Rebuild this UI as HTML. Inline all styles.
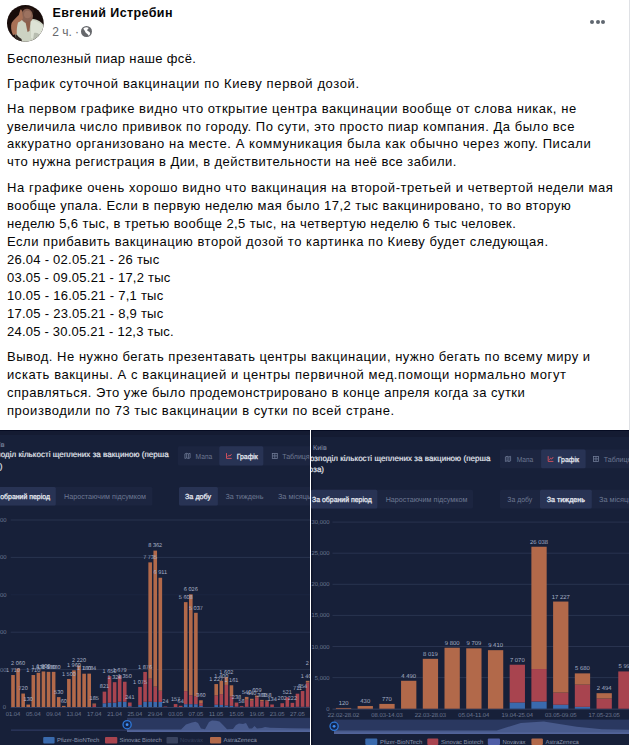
<!DOCTYPE html>
<html><head><meta charset="utf-8"><style>
html,body{margin:0;padding:0;background:#fff;}
body{width:630px;height:745px;overflow:hidden;position:relative;font-family:"Liberation Sans","DejaVu Sans",sans-serif;color:#050505;}
.l{position:absolute;left:7.0px;white-space:nowrap;font-size:13.0px;line-height:18px;}
.av{position:absolute;left:7.2px;top:5px;}
.nm{position:absolute;left:52.5px;top:5px;font-weight:bold;font-size:12.5px;letter-spacing:0.4px;line-height:16px;white-space:nowrap;}
.tm{position:absolute;left:52.2px;top:24.5px;font-size:12px;line-height:14px;color:#65676b;white-space:nowrap;}
.dots{position:absolute;top:19.5px;width:4px;height:4px;border-radius:50%;background:#606770;}
.edge{position:absolute;left:629px;top:0;width:1px;height:430px;background:#dfe1e5;}
.ch{position:absolute;}
.ch text{font-family:"Liberation Sans","DejaVu Sans",sans-serif;text-rendering:geometricPrecision;}
.t5{font-size:5.9px;}
.t55{font-size:5.6px;}
.t6{font-size:5.9px;}
.t7{font-size:7.1px;}
.t7b{font-size:6.9px;font-weight:bold;}
.bt{font-size:7.4px;fill:#6d7892;}
.ba{fill:#e6e9f1;stroke:#e6e9f1;stroke-width:0.28px;}
.tt{font-size:8px;fill:#e4e8f0;stroke:#e4e8f0;stroke-width:0.18px;}
</style></head><body>
<svg class="av" width="37" height="37" viewBox="0 0 37 37">
<defs><clipPath id="cc"><circle cx="18.35" cy="18.35" r="18.35"/></clipPath>
<filter id="bl" filterUnits="userSpaceOnUse" x="-5" y="-5" width="47" height="47"><feGaussianBlur stdDeviation="0.5"/></filter></defs>
<g clip-path="url(#cc)">
<rect width="37" height="37" fill="#180c0a"/>
<g filter="url(#bl)">
<ellipse cx="20" cy="6" rx="7" ry="4" fill="#2a1712"/>
<path d="M9 17 C14 14 20 14.5 26 14 C31 14.5 35 17 37 21 L37 37 L9 37 C8 30 8 24 9 17Z" fill="#ccd2c2"/>
<path d="M24 15 C29 15.5 33 17.5 36 21 L37 30 L31 35 L24 33 Z" fill="#dde2d5"/>
<ellipse cx="20" cy="11" rx="6" ry="7.2" fill="#8a6352"/>
<ellipse cx="20.5" cy="9.5" rx="3.5" ry="3.8" fill="#9c7260"/>
<path d="M18.5 17 L23.5 16.5 L22.5 26 L20.5 27 Z" fill="#8d5e4b"/>
<path d="M13.4 4.6 C14.6 4.4 15.4 6 15.2 8.5 L16 13 C15.6 15.5 13 16.5 11 17.5 C10 21 9.6 25 9.8 29 L6 30 C4 26 3.6 21 4.6 18 C6.5 14.5 9.5 12.5 11.8 10 Z" fill="#a87157"/>
<path d="M9 29 C11 31 12.5 33 14.5 34 L15 37 L7 37 Z" fill="#2d2520"/>
<path d="M27 28 C30 27 33 29 34 32 L30 36 L26 35Z" fill="#b8bdb0"/>
</g>
</g></svg>
<div class="nm">Евгений Истребин</div>
<div class="tm">2 ч. · </div><svg style="position:absolute;left:81px;top:26px" width="11" height="11" viewBox="0 0 11 11"><circle cx="5.5" cy="5.5" r="5.5" fill="#65676b"/><path d="M2.3 2.4 C3.8 1.1 6.4 1 7.7 1.9 C7.2 3 6 3.4 6.2 4.6 C7 5.3 8.5 5.8 9.1 7 C9.3 8.1 8.7 9.2 7.7 9.7 C7.1 8.7 6.3 7.7 5.4 7.2 C4.4 6.6 4.2 5.4 3.6 4.5 C3 3.8 2.5 3.2 2.3 2.4Z" fill="#fff"/></svg>
<div class="dots" style="left:589.7px"></div>
<div class="dots" style="left:595.5px"></div>
<div class="dots" style="left:601px"></div>
<div class="edge"></div>
<div class="l" style="top:49.80px;letter-spacing:0.344px">Бесполезный пиар наше фсё.</div>
<div class="l" style="top:74.70px;letter-spacing:0.631px">График суточной вакцинации по Киеву первой дозой.</div>
<div class="l" style="top:99.60px;letter-spacing:0.556px">На первом графике видно что открытие центра вакцинации вообще от слова никак, не</div>
<div class="l" style="top:117.50px;letter-spacing:0.544px">увеличила число прививок по городу. По сути, это просто пиар компания. Да было все</div>
<div class="l" style="top:135.40px;letter-spacing:0.570px">аккуратно организовано на месте. А коммуникация была как обычно через жопу. Писали</div>
<div class="l" style="top:153.30px;letter-spacing:0.428px">что нужна регистрация в Дии, в действительности на неё все забили.</div>
<div class="l" style="top:178.60px;letter-spacing:0.556px">На графике очень хорошо видно что вакцинация на второй-третьей и четвертой недели мая</div>
<div class="l" style="top:196.60px;letter-spacing:0.466px">вообще упала. Если в первую неделю мая было 17,2 тыс вакцинировано, то во вторую</div>
<div class="l" style="top:214.60px;letter-spacing:0.396px">неделю 5,6 тыс, в третью вообще 2,5 тыс, на четвертую неделю 6 тыс человек.</div>
<div class="l" style="top:232.60px;letter-spacing:0.525px">Если прибавить вакцинацию второй дозой то картинка по Киеву будет следующая.</div>
<div class="l" style="top:250.60px;letter-spacing:0.254px">26.04 - 02.05.21 - 26 тыс</div>
<div class="l" style="top:268.60px;letter-spacing:0.246px">03.05 - 09.05.21 - 17,2 тыс</div>
<div class="l" style="top:286.60px;letter-spacing:0.260px">10.05 - 16.05.21 - 7,1 тыс</div>
<div class="l" style="top:304.60px;letter-spacing:0.260px">17.05 - 23.05.21 - 8,9 тыс</div>
<div class="l" style="top:322.60px;letter-spacing:0.222px">24.05 - 30.05.21 - 12,3 тыс.</div>
<div class="l" style="top:348.40px;letter-spacing:0.513px">Вывод. Не нужно бегать презентавать центры вакцинации, нужно бегать по всему миру и</div>
<div class="l" style="top:366.30px;letter-spacing:0.588px">искать вакцины. А с вакцинацией и центры первичной мед.помощи нормально могут</div>
<div class="l" style="top:384.20px;letter-spacing:0.478px">справляться. Это уже было продемонстрировано в конце апреля когда за сутки</div>
<div class="l" style="top:402.10px;letter-spacing:0.535px">производили по 73 тыс вакцинации в сутки по всей стране.</div>
<svg class="ch" style="left:0;top:430px" width="310" height="315" viewBox="0 430 310 315">
<rect x="0" y="430" width="310" height="315" fill="#172039"/>
<rect x="0" y="430" width="310" height="1.2" fill="#050b22"/>
<rect x="0" y="431" width="310" height="4" fill="#141b32"/>
<text x="4.6" y="446.8" class="t7" fill="#8b94ae" text-anchor="end">Київ</text>
<text x="168.7" y="457.4" class="tt" text-anchor="end" textLength="185.5" lengthAdjust="spacing">Розподіл кількості щеплених за вакциною (перша</text>
<text x="2.3" y="468.7" class="tt" text-anchor="end">доза)</text>
<rect x="177.8" y="446.3" width="522.2" height="19.1" rx="1.5" fill="#1c2540"/>
<rect x="219.3" y="446.3" width="44.0" height="19.1" rx="1.5" fill="#283354"/>
<text x="195.6" y="458.6" class="bt" textLength="16.6" lengthAdjust="spacingAndGlyphs">Мапа</text>
<text x="236.7" y="458.6" class="bt ba" textLength="21.1" lengthAdjust="spacingAndGlyphs">Графік</text>
<text x="282.2" y="458.6" class="bt" textLength="27.5" lengthAdjust="spacingAndGlyphs">Таблиця</text>
<g fill="none" stroke="#6f7a95" stroke-width="0.8"><path d="M184.9 453.9 l1.7 -0.6 l1.8 0.6 l1.7 -0.6 v4.6 l-1.7 0.6 l-1.8 -0.6 l-1.7 0.6z M186.6 453.3 v4.6 M188.4 453.9 v4.6"/></g>
<g fill="none" stroke="#e0525f" stroke-width="0.9"><path d="M226.5 453.1 v5.3 h5.2 M227.7 456.8 l1.2 -1.6 l1.1 0.9 l1.5 -2"/></g>
<g fill="none" stroke="#6f7a95" stroke-width="0.8"><rect x="272.3" y="453.4" width="5" height="5"/><path d="M272.3 455.9 h5 M274.8 453.4 v5"/></g>
<rect x="-10" y="487.1" width="162.4" height="18.4" rx="1.5" fill="#1c2540"/>
<rect x="-10" y="487.1" width="65.8" height="18.4" rx="1.5" fill="#283354"/>
<rect x="179" y="487.1" width="151.0" height="18.4" rx="1.5" fill="#1c2540"/>
<rect x="179" y="487.1" width="38.9" height="18.4" rx="1.5" fill="#283354"/>
<text x="-9.7" y="499" class="bt ba" textLength="59.7" lengthAdjust="spacingAndGlyphs">За обраний період</text>
<text x="64" y="499" class="bt" textLength="82" lengthAdjust="spacingAndGlyphs">Наростаючим підсумком</text>
<text x="185" y="499" class="bt ba" textLength="26.2" lengthAdjust="spacingAndGlyphs">За добу</text>
<text x="225.5" y="499" class="bt" textLength="38" lengthAdjust="spacingAndGlyphs">За тиждень</text>
<text x="277.9" y="499" class="bt" textLength="33" lengthAdjust="spacingAndGlyphs">За місяць</text>
<rect x="10.7" y="669.10" width="300" height="1" fill="#29334f"/>
<text x="6.5" y="671.60" class="t6" fill="#6d7892" text-anchor="end">2 000</text>
<rect x="10.7" y="631.70" width="300" height="1" fill="#29334f"/>
<text x="6.5" y="634.20" class="t6" fill="#6d7892" text-anchor="end">4 000</text>
<rect x="10.7" y="594.30" width="300" height="1" fill="#1c2540"/>
<text x="6.5" y="596.80" class="t6" fill="#6d7892" text-anchor="end">6 000</text>
<rect x="10.7" y="556.90" width="300" height="1" fill="#29334f"/>
<text x="6.5" y="559.40" class="t6" fill="#6d7892" text-anchor="end">8 000</text>
<rect x="10.7" y="519.50" width="300" height="1" fill="#29334f"/>
<text x="6.5" y="522.00" class="t6" fill="#6d7892" text-anchor="end">10 000</text>
<text x="6" y="709.00" class="t6" fill="#6d7892" text-anchor="end">0</text>
<rect x="10.7" y="707.00" width="300" height="0.8" fill="#3a4566"/>
<rect x="11.20" y="675.02" width="3.6" height="31.98" fill="#b2694a"/>
<rect x="16.28" y="668.48" width="3.6" height="38.52" fill="#b2694a"/>
<rect x="21.36" y="693.54" width="3.6" height="13.46" fill="#b2694a"/>
<rect x="26.44" y="704.57" width="3.6" height="2.43" fill="#b2694a"/>
<rect x="31.52" y="675.02" width="3.6" height="31.98" fill="#b2694a"/>
<rect x="36.60" y="672.78" width="3.6" height="34.22" fill="#b2694a"/>
<rect x="41.68" y="671.47" width="3.6" height="35.53" fill="#b2694a"/>
<rect x="46.76" y="671.84" width="3.6" height="35.16" fill="#b2694a"/>
<rect x="51.84" y="671.84" width="3.6" height="35.16" fill="#b2694a"/>
<rect x="56.92" y="697.09" width="3.6" height="9.91" fill="#b2694a"/>
<rect x="62.00" y="705.88" width="3.6" height="1.12" fill="#b2694a"/>
<rect x="67.08" y="678.95" width="3.6" height="28.05" fill="#b2694a"/>
<rect x="72.16" y="670.35" width="3.6" height="36.65" fill="#b2694a"/>
<rect x="77.24" y="665.49" width="3.6" height="41.51" fill="#b2694a"/>
<rect x="82.32" y="673.71" width="3.6" height="33.29" fill="#b2694a"/>
<rect x="87.40" y="673.64" width="3.6" height="33.36" fill="#b2694a"/>
<rect x="92.48" y="704.76" width="3.6" height="2.24" fill="#a8444f"/>
<rect x="92.48" y="703.54" width="3.6" height="1.22" fill="#b2694a"/>
<rect x="102.64" y="703.26" width="3.6" height="3.74" fill="#3a6aad"/>
<rect x="102.64" y="691.65" width="3.6" height="11.61" fill="#a8444f"/>
<rect x="107.72" y="702.70" width="3.6" height="4.30" fill="#3a6aad"/>
<rect x="107.72" y="676.14" width="3.6" height="26.55" fill="#a8444f"/>
<rect x="112.80" y="702.70" width="3.6" height="4.30" fill="#3a6aad"/>
<rect x="112.80" y="682.17" width="3.6" height="20.53" fill="#a8444f"/>
<rect x="117.88" y="701.76" width="3.6" height="5.24" fill="#3a6aad"/>
<rect x="117.88" y="675.60" width="3.6" height="26.16" fill="#a8444f"/>
<rect x="122.96" y="701.76" width="3.6" height="5.24" fill="#3a6aad"/>
<rect x="122.96" y="681.75" width="3.6" height="20.01" fill="#a8444f"/>
<rect x="128.04" y="706.25" width="3.6" height="0.75" fill="#3a6aad"/>
<rect x="128.04" y="702.49" width="3.6" height="3.76" fill="#a8444f"/>
<rect x="138.20" y="704.94" width="3.6" height="2.06" fill="#3a6aad"/>
<rect x="138.20" y="686.90" width="3.6" height="18.05" fill="#a8444f"/>
<rect x="143.28" y="701.76" width="3.6" height="5.24" fill="#3a6aad"/>
<rect x="143.28" y="671.92" width="3.6" height="29.85" fill="#a8444f"/>
<rect x="148.36" y="701.71" width="3.6" height="5.29" fill="#3a6aad"/>
<rect x="148.36" y="678.71" width="3.6" height="23.00" fill="#a8444f"/>
<rect x="148.36" y="562.36" width="3.6" height="116.35" fill="#b2694a"/>
<rect x="153.44" y="701.95" width="3.6" height="5.05" fill="#3a6aad"/>
<rect x="153.44" y="686.62" width="3.6" height="15.33" fill="#a8444f"/>
<rect x="153.44" y="550.63" width="3.6" height="135.99" fill="#b2694a"/>
<rect x="158.52" y="701.95" width="3.6" height="5.05" fill="#3a6aad"/>
<rect x="158.52" y="690.73" width="3.6" height="11.22" fill="#a8444f"/>
<rect x="158.52" y="577.76" width="3.6" height="112.97" fill="#b2694a"/>
<rect x="163.60" y="706.55" width="3.6" height="0.45" fill="#a8444f"/>
<rect x="173.76" y="704.06" width="3.6" height="2.94" fill="#a8444f"/>
<rect x="178.84" y="705.80" width="3.6" height="1.20" fill="#a8444f"/>
<rect x="183.92" y="704.20" width="3.6" height="2.81" fill="#3a6aad"/>
<rect x="183.92" y="691.11" width="3.6" height="13.09" fill="#a8444f"/>
<rect x="183.92" y="602.13" width="3.6" height="88.97" fill="#b2694a"/>
<rect x="189.00" y="704.20" width="3.6" height="2.81" fill="#3a6aad"/>
<rect x="189.00" y="695.22" width="3.6" height="8.98" fill="#a8444f"/>
<rect x="189.00" y="594.31" width="3.6" height="100.91" fill="#b2694a"/>
<rect x="194.08" y="704.20" width="3.6" height="2.81" fill="#3a6aad"/>
<rect x="194.08" y="696.15" width="3.6" height="8.04" fill="#a8444f"/>
<rect x="194.08" y="612.81" width="3.6" height="83.35" fill="#b2694a"/>
<rect x="199.16" y="705.88" width="3.6" height="1.12" fill="#3a6aad"/>
<rect x="199.16" y="703.07" width="3.6" height="2.81" fill="#a8444f"/>
<rect x="199.16" y="700.27" width="3.6" height="2.81" fill="#b2694a"/>
<rect x="214.40" y="704.76" width="3.6" height="2.24" fill="#3a6aad"/>
<rect x="214.40" y="695.41" width="3.6" height="9.35" fill="#a8444f"/>
<rect x="214.40" y="684.06" width="3.6" height="11.35" fill="#b2694a"/>
<rect x="219.48" y="704.94" width="3.6" height="2.06" fill="#3a6aad"/>
<rect x="219.48" y="694.10" width="3.6" height="10.85" fill="#a8444f"/>
<rect x="219.48" y="680.82" width="3.6" height="13.28" fill="#b2694a"/>
<rect x="224.56" y="705.50" width="3.6" height="1.50" fill="#3a6aad"/>
<rect x="224.56" y="684.93" width="3.6" height="20.57" fill="#a8444f"/>
<rect x="224.56" y="677.04" width="3.6" height="7.89" fill="#b2694a"/>
<rect x="229.64" y="705.88" width="3.6" height="1.12" fill="#3a6aad"/>
<rect x="229.64" y="696.53" width="3.6" height="9.35" fill="#a8444f"/>
<rect x="229.64" y="685.29" width="3.6" height="11.24" fill="#b2694a"/>
<rect x="234.72" y="706.63" width="3.6" height="0.37" fill="#3a6aad"/>
<rect x="234.72" y="702.89" width="3.6" height="3.74" fill="#a8444f"/>
<rect x="234.72" y="702.55" width="3.6" height="0.34" fill="#b2694a"/>
<rect x="239.80" y="706.81" width="3.6" height="0.19" fill="#3a6aad"/>
<rect x="239.80" y="705.92" width="3.6" height="0.90" fill="#a8444f"/>
<rect x="244.88" y="706.81" width="3.6" height="0.19" fill="#3a6aad"/>
<rect x="244.88" y="699.71" width="3.6" height="7.11" fill="#a8444f"/>
<rect x="244.88" y="696.90" width="3.6" height="2.81" fill="#b2694a"/>
<rect x="249.96" y="706.81" width="3.6" height="0.19" fill="#3a6aad"/>
<rect x="249.96" y="700.64" width="3.6" height="6.17" fill="#a8444f"/>
<rect x="249.96" y="698.77" width="3.6" height="1.87" fill="#b2694a"/>
<rect x="255.04" y="706.81" width="3.6" height="0.19" fill="#3a6aad"/>
<rect x="255.04" y="697.46" width="3.6" height="9.35" fill="#a8444f"/>
<rect x="255.04" y="695.61" width="3.6" height="1.85" fill="#b2694a"/>
<rect x="260.12" y="706.81" width="3.6" height="0.19" fill="#3a6aad"/>
<rect x="260.12" y="701.20" width="3.6" height="5.61" fill="#a8444f"/>
<rect x="260.12" y="699.89" width="3.6" height="1.31" fill="#b2694a"/>
<rect x="265.20" y="706.81" width="3.6" height="0.19" fill="#3a6aad"/>
<rect x="265.20" y="701.20" width="3.6" height="5.61" fill="#a8444f"/>
<rect x="265.20" y="700.31" width="3.6" height="0.90" fill="#b2694a"/>
<rect x="270.28" y="704.49" width="3.6" height="2.51" fill="#a8444f"/>
<rect x="280.44" y="703.22" width="3.6" height="3.78" fill="#a8444f"/>
<rect x="285.52" y="706.81" width="3.6" height="0.19" fill="#3a6aad"/>
<rect x="285.52" y="697.26" width="3.6" height="9.56" fill="#a8444f"/>
<rect x="290.60" y="702.85" width="3.6" height="4.15" fill="#a8444f"/>
<rect x="295.68" y="706.81" width="3.6" height="0.19" fill="#3a6aad"/>
<rect x="295.68" y="693.70" width="3.6" height="13.11" fill="#a8444f"/>
<rect x="300.76" y="706.81" width="3.6" height="0.19" fill="#3a6aad"/>
<rect x="300.76" y="691.03" width="3.6" height="15.78" fill="#a8444f"/>
<rect x="305.84" y="706.81" width="3.6" height="0.19" fill="#3a6aad"/>
<rect x="305.84" y="682.50" width="3.6" height="24.31" fill="#a8444f"/>
<rect x="305.84" y="680.82" width="3.6" height="1.68" fill="#b2694a"/>
<rect x="310.92" y="706.63" width="3.6" height="0.37" fill="#3a6aad"/>
<rect x="310.92" y="669.23" width="3.6" height="37.40" fill="#a8444f"/>
<rect x="310.92" y="668.01" width="3.6" height="1.22" fill="#b2694a"/>
<text x="13.00" y="671.72" class="t55" fill="#a7b0c6" text-anchor="middle">1 710</text>
<text x="18.08" y="665.18" class="t55" fill="#a7b0c6" text-anchor="middle">2 060</text>
<text x="23.16" y="690.24" class="t55" fill="#a7b0c6" text-anchor="middle">720</text>
<text x="28.24" y="701.27" class="t55" fill="#a7b0c6" text-anchor="middle">130</text>
<text x="33.32" y="671.72" class="t55" fill="#a7b0c6" text-anchor="middle">1 710</text>
<text x="38.40" y="669.48" class="t55" fill="#a7b0c6" text-anchor="middle">1 830</text>
<text x="43.48" y="668.17" class="t55" fill="#a7b0c6" text-anchor="middle">1 900</text>
<text x="48.56" y="668.54" class="t55" fill="#a7b0c6" text-anchor="middle">1 880</text>
<text x="53.64" y="668.54" class="t55" fill="#a7b0c6" text-anchor="middle">1 880</text>
<text x="58.72" y="693.79" class="t55" fill="#a7b0c6" text-anchor="middle">530</text>
<text x="63.80" y="702.58" class="t55" fill="#a7b0c6" text-anchor="middle">60</text>
<text x="68.88" y="675.65" class="t55" fill="#a7b0c6" text-anchor="middle">1 500</text>
<text x="73.96" y="667.05" class="t55" fill="#a7b0c6" text-anchor="middle">1 960</text>
<text x="79.04" y="662.19" class="t55" fill="#a7b0c6" text-anchor="middle">2 220</text>
<text x="84.12" y="670.41" class="t55" fill="#a7b0c6" text-anchor="middle">1 780</text>
<text x="89.20" y="670.34" class="t55" fill="#a7b0c6" text-anchor="middle">1 784</text>
<text x="94.28" y="700.24" class="t55" fill="#a7b0c6" text-anchor="middle">185</text>
<text x="104.44" y="688.35" class="t55" fill="#a7b0c6" text-anchor="middle">821</text>
<text x="109.52" y="672.85" class="t55" fill="#a7b0c6" text-anchor="middle">1 650</text>
<text x="114.60" y="678.87" class="t55" fill="#a7b0c6" text-anchor="middle">1 328</text>
<text x="119.68" y="672.30" class="t55" fill="#a7b0c6" text-anchor="middle">1 679</text>
<text x="124.76" y="678.46" class="t55" fill="#a7b0c6" text-anchor="middle">1 350</text>
<text x="129.84" y="699.19" class="t55" fill="#a7b0c6" text-anchor="middle">241</text>
<text x="140.00" y="683.60" class="t55" fill="#a7b0c6" text-anchor="middle">1 075</text>
<text x="145.08" y="668.62" class="t55" fill="#a7b0c6" text-anchor="middle">1 876</text>
<text x="150.16" y="559.06" class="t55" fill="#a7b0c6" text-anchor="middle">7 735</text>
<text x="155.24" y="547.33" class="t55" fill="#a7b0c6" text-anchor="middle">8 362</text>
<text x="160.32" y="574.46" class="t55" fill="#a7b0c6" text-anchor="middle">6 911</text>
<text x="165.40" y="703.25" class="t55" fill="#a7b0c6" text-anchor="middle">24</text>
<text x="175.56" y="700.76" class="t55" fill="#a7b0c6" text-anchor="middle">157</text>
<text x="180.64" y="702.50" class="t55" fill="#a7b0c6" text-anchor="middle">64</text>
<text x="185.72" y="598.83" class="t55" fill="#a7b0c6" text-anchor="middle">5 608</text>
<text x="190.80" y="591.01" class="t55" fill="#a7b0c6" text-anchor="middle">6 026</text>
<text x="195.88" y="609.51" class="t55" fill="#a7b0c6" text-anchor="middle">5 037</text>
<text x="200.96" y="696.97" class="t55" fill="#a7b0c6" text-anchor="middle">360</text>
<text x="216.20" y="680.76" class="t55" fill="#a7b0c6" text-anchor="middle">1 227</text>
<text x="221.28" y="677.52" class="t55" fill="#a7b0c6" text-anchor="middle">1 400</text>
<text x="226.36" y="673.74" class="t55" fill="#a7b0c6" text-anchor="middle">1 602</text>
<text x="231.44" y="681.99" class="t55" fill="#a7b0c6" text-anchor="middle">1 161</text>
<text x="236.52" y="699.25" class="t55" fill="#a7b0c6" text-anchor="middle">238</text>
<text x="241.60" y="702.62" class="t55" fill="#a7b0c6" text-anchor="middle">58</text>
<text x="246.68" y="693.60" class="t55" fill="#a7b0c6" text-anchor="middle">540</text>
<text x="251.76" y="695.47" class="t55" fill="#a7b0c6" text-anchor="middle">440</text>
<text x="256.84" y="692.31" class="t55" fill="#a7b0c6" text-anchor="middle">609</text>
<text x="261.92" y="696.59" class="t55" fill="#a7b0c6" text-anchor="middle">380</text>
<text x="267.00" y="697.01" class="t55" fill="#a7b0c6" text-anchor="middle">358</text>
<text x="272.08" y="701.19" class="t55" fill="#a7b0c6" text-anchor="middle">134</text>
<text x="282.24" y="699.92" class="t55" fill="#a7b0c6" text-anchor="middle">202</text>
<text x="287.32" y="693.96" class="t55" fill="#a7b0c6" text-anchor="middle">521</text>
<text x="292.40" y="699.55" class="t55" fill="#a7b0c6" text-anchor="middle">222</text>
<text x="297.48" y="690.40" class="t55" fill="#a7b0c6" text-anchor="middle">711</text>
<text x="302.56" y="687.73" class="t55" fill="#a7b0c6" text-anchor="middle">854</text>
<text x="307.64" y="677.52" class="t55" fill="#a7b0c6" text-anchor="middle">1 400</text>
<text x="312.72" y="664.71" class="t55" fill="#a7b0c6" text-anchor="middle">2 085</text>
<text x="13.00" y="715.6" class="t6" fill="#6d7892" text-anchor="middle">01.04</text>
<text x="33.32" y="715.6" class="t6" fill="#6d7892" text-anchor="middle">05.04</text>
<text x="53.64" y="715.6" class="t6" fill="#6d7892" text-anchor="middle">09.04</text>
<text x="73.96" y="715.6" class="t6" fill="#6d7892" text-anchor="middle">13.04</text>
<text x="94.28" y="715.6" class="t6" fill="#6d7892" text-anchor="middle">17.04</text>
<text x="114.60" y="715.6" class="t6" fill="#6d7892" text-anchor="middle">21.04</text>
<text x="134.92" y="715.6" class="t6" fill="#6d7892" text-anchor="middle">25.04</text>
<text x="155.24" y="715.6" class="t6" fill="#6d7892" text-anchor="middle">29.04</text>
<text x="175.56" y="715.6" class="t6" fill="#6d7892" text-anchor="middle">03.05</text>
<text x="195.88" y="715.6" class="t6" fill="#6d7892" text-anchor="middle">07.05</text>
<text x="216.20" y="715.6" class="t6" fill="#6d7892" text-anchor="middle">11.05</text>
<text x="236.52" y="715.6" class="t6" fill="#6d7892" text-anchor="middle">15.05</text>
<text x="256.84" y="715.6" class="t6" fill="#6d7892" text-anchor="middle">19.05</text>
<text x="277.16" y="715.6" class="t6" fill="#6d7892" text-anchor="middle">23.05</text>
<text x="297.48" y="715.6" class="t6" fill="#6d7892" text-anchor="middle">27.05</text>
<rect x="11" y="729.6" width="117" height="1" fill="#34406a"/>
<rect x="127" y="717.8" width="190" height="13.9" fill="#2a3860"/>
<path d="M127 729.6 L181 729.6 L186 724.5 L192 722.6 L195.5 721.8 L198 723 L201 728.5 L205 729.3 L209 722 L212 720.4 L216 720.8 L219.5 721.5 L223 725 L227 729.3 L233 729 L236 725 L239 723.5 L243 724 L246 723 L249 728.5 L252 728.5 L254.5 726 L257 728.5 L262 728 L265 727 L270 727.8 L290 728.3 L310 728.6 V731.7 H127 Z" fill="#485a8c"/>
<rect x="127" y="730.6" width="190" height="1.2" fill="#5869a0"/>
<circle cx="127.1" cy="724.7" r="4.1" fill="#14264d" stroke="#2f78d8" stroke-width="1.3"/>
<circle cx="127.1" cy="724.7" r="1.4" fill="#3d8ef5"/>
<rect x="43.2" y="737" width="11.4" height="6.5" rx="1" fill="#3a6aad"/>
<text x="57" y="742.3" class="t6" fill="#8d97ae">Pfizer-BioNTech</text>
<rect x="105" y="737" width="12.3" height="6.5" rx="1" fill="#a8444f"/>
<text x="119.5" y="742.3" class="t6" fill="#8d97ae">Sinovac Biotech</text>
<rect x="166.5" y="737" width="11.5" height="6.5" rx="1" fill="#39435f"/>
<text x="180" y="742.3" class="t6" fill="#39435f">Novavax</text>
<rect x="210" y="737" width="11.2" height="6.5" rx="1" fill="#b2694a"/>
<text x="223.5" y="742.3" class="t6" fill="#8d97ae">AstraZeneca</text>
</svg>
<div style="position:absolute;left:310px;top:430px;width:1px;height:315px;background:#fff"></div>
<svg class="ch" style="left:311px;top:430px" width="318" height="315" viewBox="311 430 318 315">
<rect x="311" y="430" width="318" height="315" fill="#172039"/>
<rect x="311" y="430" width="318" height="1.2" fill="#050b22"/>
<rect x="311" y="431" width="318" height="6" fill="#141b32"/>
<rect x="311" y="430" width="1.5" height="315" fill="#0d1329"/>
<text x="313" y="450.3" class="t7" fill="#8b94ae">Київ</text>
<text x="490.4" y="460.7" class="tt" text-anchor="end" textLength="185.5" lengthAdjust="spacing">Розподіл кількості щеплених за вакциною (перша</text>
<text x="324" y="472" class="tt" text-anchor="end">доза)</text>
<rect x="500" y="449.5" width="200" height="18.8" rx="1.5" fill="#1c2540"/>
<rect x="541.1" y="449.5" width="44.5" height="18.8" rx="1.5" fill="#283354"/>
<text x="516.7" y="461.8" class="bt" textLength="16.6" lengthAdjust="spacingAndGlyphs">Мапа</text>
<text x="557.8" y="461.8" class="bt ba" textLength="21.1" lengthAdjust="spacingAndGlyphs">Графік</text>
<text x="603.8" y="461.8" class="bt" textLength="27.5" lengthAdjust="spacingAndGlyphs">Таблиця</text>
<g fill="none" stroke="#6f7a95" stroke-width="0.8"><path d="M505.4 456.9 l1.7 -0.6 l1.8 0.6 l1.7 -0.6 v4.6 l-1.7 0.6 l-1.8 -0.6 l-1.7 0.6z M507.1 456.3 v4.6 M508.9 456.9 v4.6"/></g>
<g fill="none" stroke="#e0525f" stroke-width="0.9"><path d="M548.2 456.1 v5.3 h5.2 M549.4 459.8 l1.2 -1.6 l1.1 0.9 l1.5 -2"/></g>
<g fill="none" stroke="#6f7a95" stroke-width="0.8"><rect x="593.5" y="456.4" width="5" height="5"/><path d="M593.5 458.9 h5 M596.0 456.4 v5"/></g>
<rect x="311" y="489.8" width="162.0" height="18.6" rx="1.5" fill="#1c2540"/>
<rect x="311" y="489.8" width="66.3" height="18.6" rx="1.5" fill="#283354"/>
<rect x="500" y="489.8" width="150.0" height="18.6" rx="1.5" fill="#1c2540"/>
<rect x="540" y="489.8" width="51.8" height="18.6" rx="1.5" fill="#283354"/>
<text x="312" y="501.8" class="bt ba" textLength="59.7" lengthAdjust="spacingAndGlyphs">За обраний період</text>
<text x="385.7" y="501.8" class="bt" textLength="81.7" lengthAdjust="spacingAndGlyphs">Наростаючим підсумком</text>
<text x="507.3" y="501.8" class="bt" textLength="24.9" lengthAdjust="spacingAndGlyphs">За добу</text>
<text x="546.8" y="501.8" class="bt ba" textLength="38.2" lengthAdjust="spacingAndGlyphs">За тиждень</text>
<text x="599" y="501.8" class="bt" textLength="33" lengthAdjust="spacingAndGlyphs">За місяць</text>
<rect x="332.5" y="677.10" width="300" height="1" fill="#29334f"/>
<text x="329.5" y="679.60" class="t5" fill="#6d7892" text-anchor="end">5,000</text>
<rect x="332.5" y="646.00" width="300" height="1" fill="#29334f"/>
<text x="329.5" y="648.50" class="t5" fill="#6d7892" text-anchor="end">10,000</text>
<rect x="332.5" y="614.90" width="300" height="1" fill="#29334f"/>
<text x="329.5" y="617.40" class="t5" fill="#6d7892" text-anchor="end">15,000</text>
<rect x="332.5" y="583.80" width="300" height="1" fill="#29334f"/>
<text x="329.5" y="586.30" class="t5" fill="#6d7892" text-anchor="end">20,000</text>
<rect x="332.5" y="552.70" width="300" height="1" fill="#29334f"/>
<text x="329.5" y="555.20" class="t5" fill="#6d7892" text-anchor="end">25,000</text>
<rect x="332.5" y="521.60" width="300" height="1" fill="#29334f"/>
<text x="329.5" y="524.10" class="t5" fill="#6d7892" text-anchor="end">30,000</text>
<text x="329.5" y="710.70" class="t5" fill="#6d7892" text-anchor="end">0</text>
<rect x="332.5" y="708.70" width="300" height="0.8" fill="#3a4566"/>
<rect x="335.90" y="707.95" width="15.3" height="0.75" fill="#b2694a"/>
<rect x="357.62" y="706.03" width="15.3" height="2.67" fill="#b2694a"/>
<rect x="379.34" y="703.91" width="15.3" height="4.79" fill="#b2694a"/>
<rect x="401.06" y="680.77" width="15.3" height="27.93" fill="#b2694a"/>
<rect x="422.78" y="658.82" width="15.3" height="49.88" fill="#b2694a"/>
<rect x="444.50" y="647.74" width="15.3" height="60.96" fill="#b2694a"/>
<rect x="466.22" y="648.31" width="15.3" height="60.39" fill="#b2694a"/>
<rect x="487.94" y="650.17" width="15.3" height="58.53" fill="#b2694a"/>
<rect x="509.66" y="702.48" width="15.3" height="6.22" fill="#3a6aad"/>
<rect x="509.66" y="664.72" width="15.3" height="37.76" fill="#a8444f"/>
<rect x="531.38" y="701.48" width="15.3" height="7.22" fill="#3a6aad"/>
<rect x="531.38" y="669.02" width="15.3" height="32.47" fill="#a8444f"/>
<rect x="531.38" y="546.74" width="15.3" height="122.27" fill="#b2694a"/>
<rect x="553.10" y="704.72" width="15.3" height="3.98" fill="#3a6aad"/>
<rect x="553.10" y="692.59" width="15.3" height="12.13" fill="#a8444f"/>
<rect x="553.10" y="601.55" width="15.3" height="91.04" fill="#b2694a"/>
<rect x="574.82" y="706.83" width="15.3" height="1.87" fill="#3a6aad"/>
<rect x="574.82" y="684.63" width="15.3" height="22.21" fill="#a8444f"/>
<rect x="574.82" y="673.37" width="15.3" height="11.26" fill="#b2694a"/>
<rect x="596.54" y="698.50" width="15.3" height="10.20" fill="#a8444f"/>
<rect x="596.54" y="693.19" width="15.3" height="5.31" fill="#b2694a"/>
<rect x="618.26" y="671.44" width="15.3" height="37.26" fill="#a8444f"/>
<text x="343.55" y="704.95" class="t6" fill="#a7b0c6" text-anchor="middle">120</text>
<text x="365.27" y="703.03" class="t6" fill="#a7b0c6" text-anchor="middle">430</text>
<text x="386.99" y="700.91" class="t6" fill="#a7b0c6" text-anchor="middle">770</text>
<text x="408.71" y="677.77" class="t6" fill="#a7b0c6" text-anchor="middle">4 490</text>
<text x="430.43" y="655.82" class="t6" fill="#a7b0c6" text-anchor="middle">8 019</text>
<text x="452.15" y="644.74" class="t6" fill="#a7b0c6" text-anchor="middle">9 800</text>
<text x="473.87" y="645.31" class="t6" fill="#a7b0c6" text-anchor="middle">9 709</text>
<text x="495.59" y="647.17" class="t6" fill="#a7b0c6" text-anchor="middle">9 410</text>
<text x="517.31" y="661.72" class="t6" fill="#a7b0c6" text-anchor="middle">7 070</text>
<text x="539.03" y="543.74" class="t6" fill="#a7b0c6" text-anchor="middle">26 038</text>
<text x="560.75" y="598.55" class="t6" fill="#a7b0c6" text-anchor="middle">17 227</text>
<text x="582.47" y="670.37" class="t6" fill="#a7b0c6" text-anchor="middle">5 680</text>
<text x="604.19" y="690.19" class="t6" fill="#a7b0c6" text-anchor="middle">2 494</text>
<text x="625.91" y="668.44" class="t6" fill="#a7b0c6" text-anchor="middle">5 990</text>
<text x="343.55" y="716.8" class="t6" fill="#6d7892" text-anchor="middle">22.02-28.02</text>
<text x="386.99" y="716.8" class="t6" fill="#6d7892" text-anchor="middle">08.03-14.03</text>
<text x="430.43" y="716.8" class="t6" fill="#6d7892" text-anchor="middle">22.03-28.03</text>
<text x="473.87" y="716.8" class="t6" fill="#6d7892" text-anchor="middle">05.04-11.04</text>
<text x="517.31" y="716.8" class="t6" fill="#6d7892" text-anchor="middle">19.04-25.04</text>
<text x="560.75" y="716.8" class="t6" fill="#6d7892" text-anchor="middle">03.05-09.05</text>
<text x="604.19" y="716.8" class="t6" fill="#6d7892" text-anchor="middle">17.05-23.05</text>
<rect x="334" y="719.6" width="300" height="14.2" fill="#2a3860"/>
<path d="M334 730.5 L496.7 730.5 L520.8 722.9 L543.7 721.6 L576.7 726.7 L602 729.2 L629 729.8 L629 733.8 L334 733.8Z" fill="#485a8c"/>
<rect x="334" y="732.6" width="300" height="1.2" fill="#5869a0"/>
<circle cx="334.1" cy="726.3" r="4.1" fill="#14264d" stroke="#2f78d8" stroke-width="1.3"/>
<circle cx="334.1" cy="726.3" r="1.4" fill="#3d8ef5"/>
<rect x="365.3" y="738.4" width="12" height="6.5" rx="1" fill="#3a6aad"/>
<text x="380" y="743.7" class="t6" fill="#8d97ae">Pfizer-BioNTech</text>
<rect x="427.3" y="738.4" width="11" height="6.5" rx="1" fill="#a8444f"/>
<text x="441" y="743.7" class="t6" fill="#8d97ae">Sinovac Biotech</text>
<rect x="487.8" y="738.4" width="12.2" height="6.5" rx="1" fill="#4f5ea6"/>
<text x="502.5" y="743.7" class="t6" fill="#8d97ae">Novavax</text>
<rect x="531.4" y="738.4" width="11.5" height="6.5" rx="1" fill="#b2694a"/>
<text x="545.5" y="743.7" class="t6" fill="#8d97ae">AstraZeneca</text>
</svg>
</body></html>
